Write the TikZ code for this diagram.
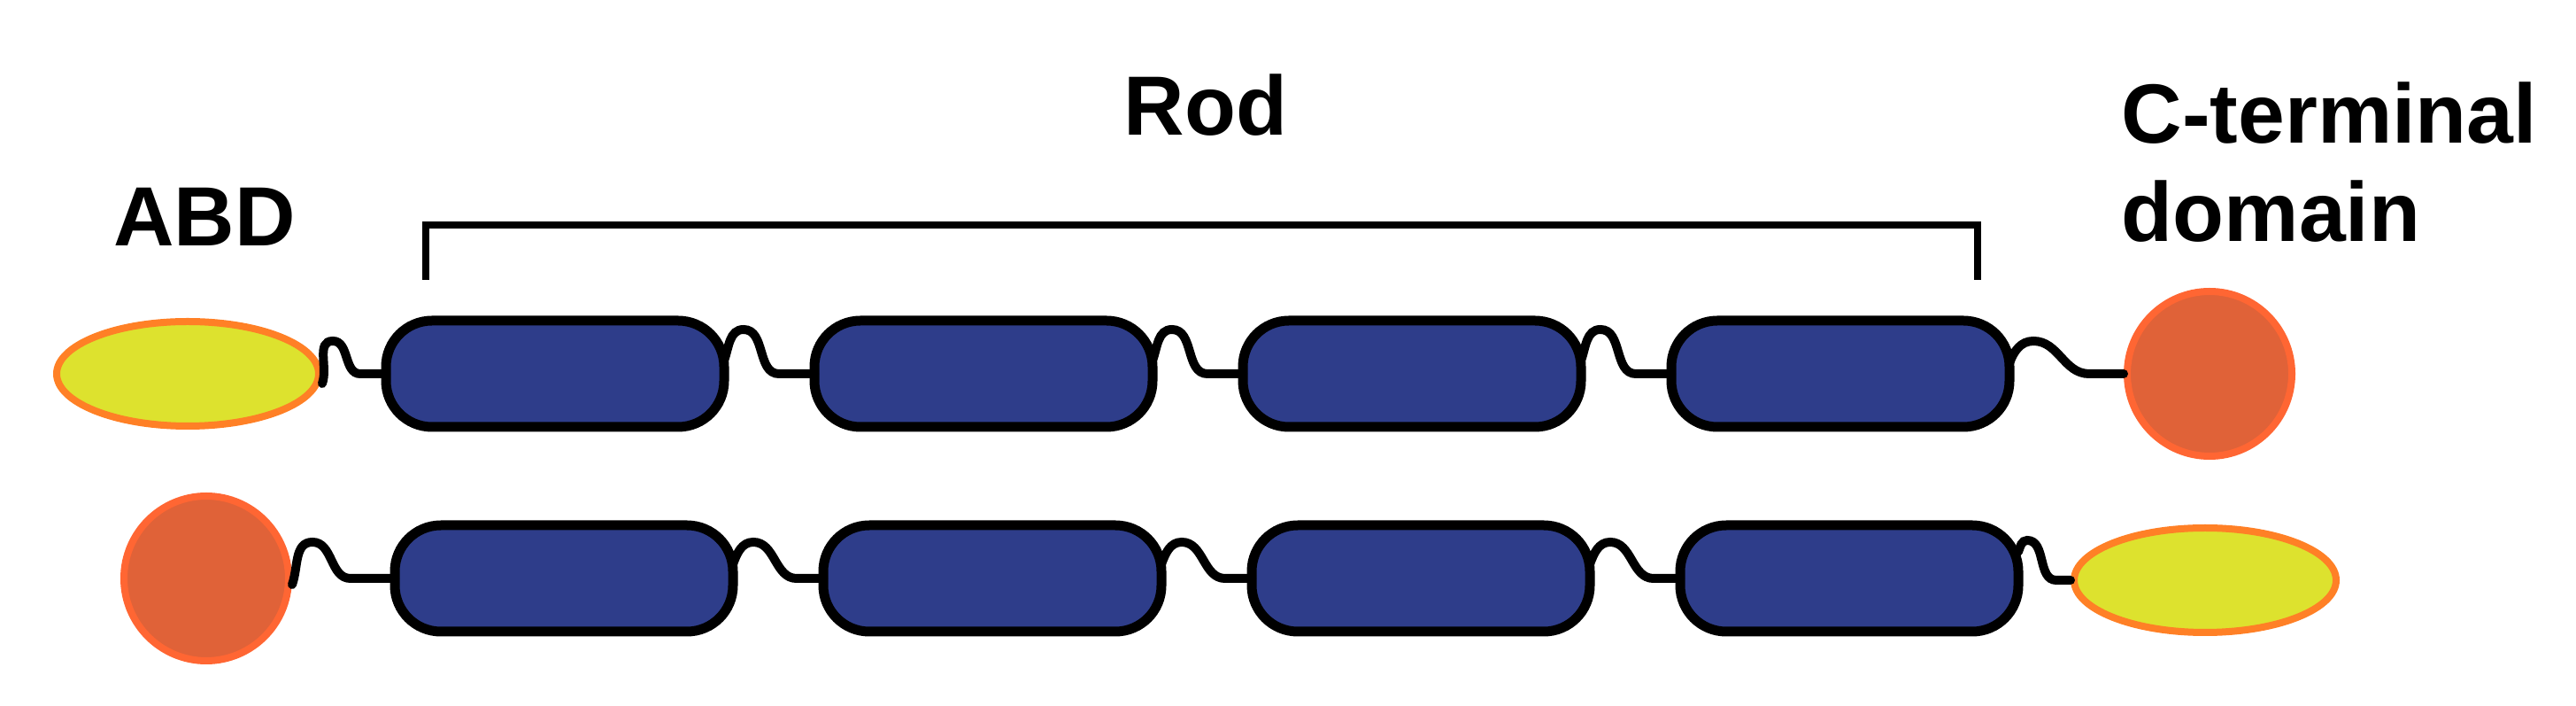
\documentclass[tikz,border=0pt]{standalone}
\usepackage{fontspec}
\setmainfont{Liberation Sans}
\usetikzlibrary{shapes.geometric}
\definecolor{rodblue}{RGB}{46,61,138}
\definecolor{abdyellow}{RGB}{221,226,46}
\definecolor{abdorange}{RGB}{255,128,38}
\definecolor{ctdred}{RGB}{224,98,56}
\definecolor{ctdorange}{RGB}{255,102,51}
\begin{document}
\begin{tikzpicture}[font=\bfseries\fontsize{27}{31.8}\selectfont,x=1cm,y=1cm,
  rodseg/.style={draw=black,line width=1.1mm,fill=rodblue,rounded corners=5.2mm,minimum width=3.82cm,minimum height=1.2cm,inner sep=0,outer sep=0},
  abd/.style={ellipse,draw=abdorange,line width=.8mm,fill=abdyellow,minimum width=2.96cm,minimum height=1.18cm,inner sep=0},
  ctd/.style={circle,draw=ctdorange,line width=.8mm,fill=ctdred,minimum size=1.86cm,inner sep=0},
  linker/.style={line width=1mm,line cap=round}]
\useasboundingbox (0,0) rectangle (29.1,7.97);
% top chain
\node[abd] (abdT) at (2.12,3.75){};
\node[ctd] (ctdT) at (24.96,3.75){};
% bottom chain
\node[ctd] (ctdB) at (2.33,1.44){};
\node[abd] (abdB) at (24.91,1.42){};
\foreach \i in {1,...,4}{\node[rodseg] (t\i) at (1.43+4.84*\i,3.75){};\node[rodseg] (b\i) at (1.53+4.84*\i,1.44){};}
\foreach \a/\b/\s/\px/\py/\lx in {abdT/t1/-.11/.12/.48/.29,t1/t2/.15/.22/.35/.4,t2/t3/.15/.22/.35/.4,t3/t4/.15/.22/.35/.4,t4/ctdT/.12/.27/.25/.39,ctdB/b1/-.07/.23/.48/.5,b1/b2/.16/.23/.25/.3,b2/b3/.16/.23/.25/.3,b3/b4/.16/.23/.25/.3,b4/abdB/.3/.1/.13/.16}
  {\draw[linker] ([yshift=\s cm]\a.east) to[out=70,in=180] ++(\px,\py) to[out=0,in=180] ([xshift=-\lx cm]\b.west) -- (\b.west);}
% labels
\coordinate (rodL) at ([shift={(.45,.46)}]t1.north west);
\coordinate (rodR) at ([shift={(-.36,.46)}]t4.north east);
\draw[line width=.8mm] (rodL) -- ++(0,.62) -| (rodR);
\node[anchor=base] (rodlbl) at (13.62,6.44){Rod};
\node[anchor=base] (abdlbl) at (2.31,5.19){ABD};
\node[anchor=base west,align=left,inner sep=0] (ctdlbl) at (23.96,5.24){C-terminal\\domain};
\end{tikzpicture}
\end{document}
